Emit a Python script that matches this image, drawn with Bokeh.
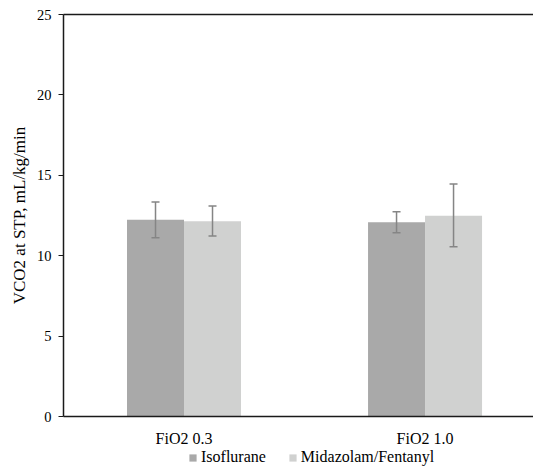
from bokeh.plotting import figure
from bokeh.layouts import column
from bokeh.models import (ColumnDataSource, Range1d, FixedTicker, LinearAxis,
                          Whisker, Legend, LegendItem, TeeHead)
from bokeh.embed import file_html
from bokeh.resources import INLINE

categories = ["FiO2 0.3", "FiO2 1.0"]
series_names = ["Isoflurane", "Midazolam/Fentanyl"]
iso_values = [12.24, 12.08]
iso_err_low = [11.12, 11.43]
iso_err_high = [13.34, 12.74]
mid_values = [12.14, 12.49]
mid_err_low = [11.22, 10.56]
mid_err_high = [13.09, 14.46]
y_ticks = [0, 5, 10, 15, 20, 25]

FONT = "Liberation Serif"
ISO_COLOR = "#a9a9a9"
MID_COLOR = "#d0d1d0"
ERR_COLOR = "#858585"

centers = [i + 0.5 for i in range(len(categories))]
bw = 0.2365

iso_src = ColumnDataSource(dict(x=[c - bw / 2 for c in centers], top=iso_values,
                                lo=iso_err_low, hi=iso_err_high))
mid_src = ColumnDataSource(dict(x=[c + bw / 2 for c in centers], top=mid_values,
                                lo=mid_err_low, hi=mid_err_high))

p = figure(width=533, height=449, output_backend="svg", toolbar_location=None,
           x_range=Range1d(0, 1.950), y_range=Range1d(0, 25),
           min_border_left=63, min_border_right=0, min_border_top=14,
           min_border_bottom=33, x_axis_location=None, y_axis_location=None)
p.outline_line_color = None
p.grid.visible = False
p.background_fill_color = "white"
p.border_fill_color = "white"

r_iso = p.vbar(x="x", top="top", width=bw, bottom=0, source=iso_src,
               fill_color=ISO_COLOR, line_color=None)
r_mid = p.vbar(x="x", top="top", width=bw, bottom=0, source=mid_src,
               fill_color=MID_COLOR, line_color=None)

for src in (iso_src, mid_src):
    w = Whisker(base="x", lower="lo", upper="hi", source=src, level="overlay",
                line_color=ERR_COLOR, line_width=1.5,
                upper_head=TeeHead(size=8, line_color=ERR_COLOR, line_width=1.5),
                lower_head=TeeHead(size=8, line_color=ERR_COLOR, line_width=1.5))
    p.add_layout(w)

yaxis = LinearAxis(ticker=FixedTicker(ticks=y_ticks), axis_label="VCO2 at STP, mL/kg/min")
yaxis.axis_line_color = "#1a1a1a"
yaxis.axis_line_width = 1.5
yaxis.major_tick_out = 5
yaxis.major_tick_in = 0
yaxis.major_tick_line_color = "#1a1a1a"
yaxis.minor_tick_line_color = None
yaxis.major_label_text_font = FONT
yaxis.major_label_text_font_size = "14.5px"
yaxis.major_label_text_color = "black"
yaxis.major_label_standoff = 7
yaxis.axis_label_text_font = FONT
yaxis.axis_label_text_font_size = "17px"
yaxis.axis_label_text_font_style = "normal"
yaxis.axis_label_text_color = "black"
yaxis.axis_label_standoff = 5
p.add_layout(yaxis, "left")

xaxis = LinearAxis(ticker=FixedTicker(ticks=centers),
                   major_label_overrides={c: lab for c, lab in zip(centers, categories)})
xaxis.axis_line_color = "#1a1a1a"
xaxis.axis_line_width = 1.5
xaxis.major_tick_line_color = None
xaxis.minor_tick_line_color = None
xaxis.major_label_text_font = FONT
xaxis.major_label_text_font_size = "16px"
xaxis.major_label_text_color = "black"
xaxis.major_label_standoff = 7
p.add_layout(xaxis, "below")

top_axis = LinearAxis(ticker=FixedTicker(ticks=[]))
top_axis.axis_line_color = "#1a1a1a"
top_axis.axis_line_width = 1.5
top_axis.major_tick_line_color = None
top_axis.minor_tick_line_color = None
top_axis.major_label_text_font_size = "0px"
p.add_layout(top_axis, "above")

# legend strip below the chart (its ranges keep the bars themselves out of view)
lg = figure(width=533, height=17, output_backend="svg", toolbar_location=None,
            x_range=Range1d(10, 11), y_range=Range1d(30, 31),
            min_border=0, x_axis_location=None, y_axis_location=None)
lg.outline_line_color = None
lg.grid.visible = False
lg.border_fill_color = "white"
lg.background_fill_color = "white"
k_iso = lg.vbar(x="x", top="top", width=bw, bottom=0, source=iso_src,
                fill_color=ISO_COLOR, line_color=None)
k_mid = lg.vbar(x="x", top="top", width=bw, bottom=0, source=mid_src,
                fill_color=MID_COLOR, line_color=None)

legend = Legend(items=[LegendItem(label=series_names[0], renderers=[k_iso]),
                       LegendItem(label=series_names[1], renderers=[k_mid])],
                orientation="horizontal", location=(125, 0),
                glyph_width=9, glyph_height=9, label_standoff=4, spacing=22,
                padding=0, margin=0, label_height=17,
                label_text_font=FONT, label_text_font_size="16px",
                label_text_color="black",
                border_line_color=None, background_fill_alpha=0)
lg.add_layout(legend, "center")

layout = column(p, lg)
open("out.html", "w").write(file_html(layout, INLINE))
